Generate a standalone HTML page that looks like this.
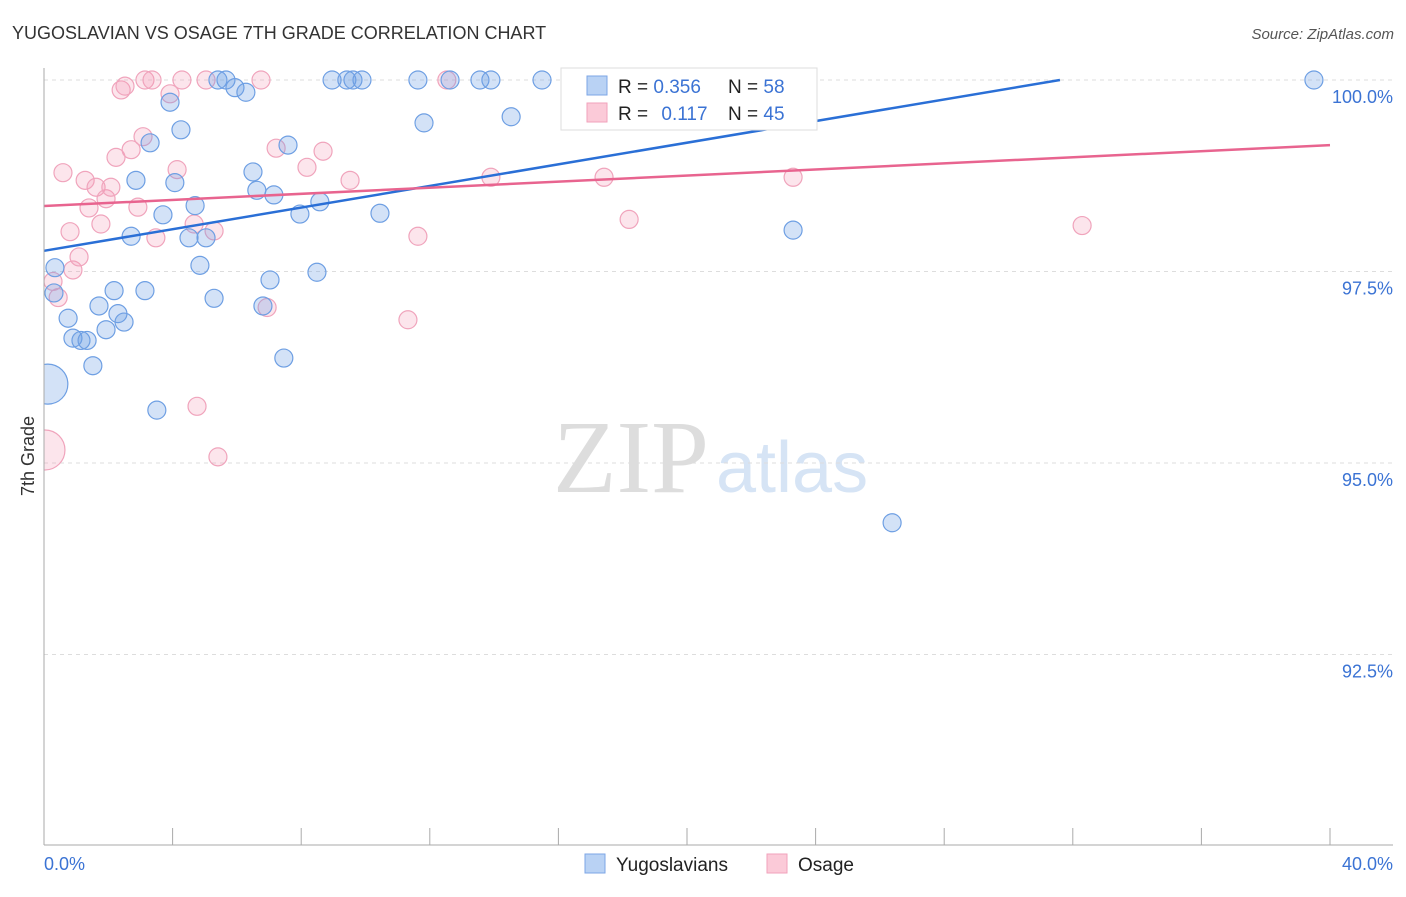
<!DOCTYPE html>
<html><head><meta charset="utf-8"><style>
body{margin:0;background:#fff;font-family:"Liberation Sans",sans-serif}
</style></head><body>
<svg id="c" width="1406" height="892" font-family="Liberation Sans, sans-serif" xmlns="http://www.w3.org/2000/svg">
<text x="12" y="39" font-size="18" fill="#333">YUGOSLAVIAN VS OSAGE 7TH GRADE CORRELATION CHART</text>
<text x="1394" y="39" font-size="15" fill="#555" font-style="italic" text-anchor="end">Source: ZipAtlas.com</text>
<text x="553" y="492" font-size="104" fill="#ddd" style="font-family:'Liberation Serif',serif">ZIP</text>
<text x="716" y="492" font-size="72" fill="#d6e4f5">atlas</text>
<text transform="translate(34,456) rotate(-90)" font-size="18" fill="#333" text-anchor="middle">7th Grade</text>
<g id="grid"></g>
<svg x="44" y="0" width="1362" height="845" viewBox="44 0 1362 845" overflow="hidden"><g id="pts"></g></svg>
<g id="lines"></g>
<line x1="44" y1="68" x2="44" y2="845" stroke="#aaa"/>
<line x1="44" y1="845" x2="1393" y2="845" stroke="#aaa"/>
<text x="44" y="870" font-size="18" fill="#3b73d4">0.0%</text>
<text x="1393" y="870" font-size="18" fill="#3b73d4" text-anchor="end">40.0%</text>
<g>
<rect x="561" y="68" width="256" height="62" fill="#fff" stroke="#ddd"/>
<rect x="587" y="76" width="20" height="19" fill="#b9d2f4" stroke="#7ca6e6"/>
<rect x="587" y="103" width="20" height="19" fill="#fbcad8" stroke="#f2a2bb"/>
<text x="618" y="93" font-size="19" fill="#222">R = <tspan fill="#3b73d4">0.356</tspan></text>
<text x="728" y="93" font-size="19" fill="#222">N = <tspan fill="#3b73d4">58</tspan></text>
<text x="618" y="120" font-size="19" fill="#222">R = <tspan fill="#3b73d4" dx="8">0.117</tspan></text>
<text x="728" y="120" font-size="19" fill="#222">N = <tspan fill="#3b73d4">45</tspan></text>
</g>
<g>
<rect x="585" y="854" width="20" height="19" fill="#b9d2f4" stroke="#7ca6e6"/>
<text x="616" y="871" font-size="19" fill="#222">Yugoslavians</text>
<rect x="767" y="854" width="20" height="19" fill="#fbcad8" stroke="#f2a2bb"/>
<text x="798" y="871" font-size="19" fill="#222">Osage</text>
</g>
</svg>
<script>
const yTicks=[100,97.5,95,92.5];
const yTickLabels=["100.0%","97.5%","95.0%","92.5%"];
const xTicks=[0,4,8,12,16,20,24,28,32,36,40];
const blueX=[0.12,0.34,0.31,0.75,0.9,1.15,1.34,1.52,1.71,1.93,2.18,2.3,2.49,2.71,2.86,3.14,3.3,3.51,3.7,3.92,4.07,4.26,4.51,4.7,4.85,5.04,5.29,5.41,5.66,5.94,6.28,6.5,6.62,6.81,7.03,7.15,7.46,7.59,7.96,8.49,8.58,8.96,9.42,9.61,9.89,10.45,11.63,11.82,12.63,13.56,13.9,14.53,15.49,20.09,20.56,23.3,26.38,39.5];
const blueY=[96.03,97.55,97.22,96.89,96.63,96.6,96.6,96.27,97.05,96.74,97.25,96.95,96.84,97.96,98.69,97.25,99.18,95.69,98.24,99.71,98.66,99.35,97.94,98.36,97.58,97.94,97.15,100,100,99.9,99.84,98.8,98.56,97.05,97.39,98.5,96.37,99.15,98.25,97.49,98.41,100,100,100,100,98.26,100,99.44,100,100,100,99.52,100,100,100,98.04,94.22,100];
const pinkX=[0.03,0.28,0.44,0.59,0.81,0.9,1.09,1.28,1.4,1.62,1.77,1.93,2.08,2.24,2.4,2.52,2.71,2.92,3.08,3.14,3.36,3.48,3.92,4.14,4.29,4.67,4.76,5.04,5.29,5.41,6.75,6.94,7.22,8.18,8.68,9.52,11.32,11.63,12.53,13.9,17.42,18.2,23.3,32.29];
const pinkY=[95.17,97.37,97.16,98.79,98.02,97.52,97.69,98.69,98.33,98.6,98.12,98.45,98.6,98.99,99.87,99.92,99.09,98.34,99.26,100,100,97.94,99.82,98.83,100,98.12,95.74,100,98.03,95.08,100,97.03,99.11,98.86,99.07,98.69,96.87,97.96,100,98.73,98.73,98.18,98.73,98.1];
const blueTrend=[[0,97.77],[31.6,100]];
const pinkTrend=[[0,98.355],[40,99.15]];
const X=v=>44+v*32.15, Y=v=>80+(100-v)*76.6;
const NS="http://www.w3.org/2000/svg";
function mk(tag,attrs,parent){const e=document.createElementNS(NS,tag);for(const k in attrs)e.setAttribute(k,attrs[k]);parent.appendChild(e);return e;}
const grid=document.getElementById('grid');
yTicks.forEach((t,i)=>{
 const l=mk('line',{x1:44,x2:1393,y1:Y(t),y2:Y(t),stroke:'#ddd','stroke-dasharray':'4,4'},grid);
 
 
 const tx=mk('text',{x:1393,y:Y(t)+23,'font-size':18,fill:'#3b73d4','text-anchor':'end'},grid);
 tx.textContent=yTickLabels[i];
 
 
});
xTicks.forEach(t=>{
 const l=mk('line',{x1:X(t),x2:X(t),y1:828,y2:845,stroke:'#aaa'},grid);
 
 
});
const pts=document.getElementById('pts');
function series(xs,ys,fill,stroke,name){
 xs.forEach((x,i)=>{
  const big=(x<0.2);
  const c=mk('circle',{cx:X(x),cy:Y(ys[i]),r:big?20:9,fill:fill,stroke:stroke,'stroke-width':1.2},pts);
  
  
 });
}
series(pinkX,pinkY,'rgba(244,150,180,0.25)','#f0a4bc','osage-point');
series(blueX,blueY,'rgba(110,160,230,0.3)','#6e9fe3','yugoslavian-point');
const lines=document.getElementById('lines');
const bl=mk('line',{x1:X(blueTrend[0][0]),y1:Y(blueTrend[0][1]),x2:X(blueTrend[1][0]),y2:Y(blueTrend[1][1]),stroke:'#2a6fd6','stroke-width':2.5},lines);


const pl=mk('line',{x1:X(pinkTrend[0][0]),y1:Y(pinkTrend[0][1]),x2:X(pinkTrend[1][0]),y2:Y(pinkTrend[1][1]),stroke:'#e8648f','stroke-width':2.5},lines);


</script>
</body></html>
